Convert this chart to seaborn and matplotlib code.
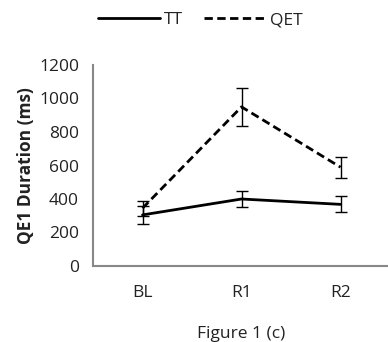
import numpy as np
import pandas as pd
import matplotlib
matplotlib.use("Agg")
import matplotlib.pyplot as plt
import seaborn as sns

phases = ["BL", "R1", "R2"]
tt_mean = [305, 400, 368]
tt_err = [52, 50, 48]
qet_mean = [345, 950, 590]
qet_err = [45, 115, 62]

sns.set_style("white")
plt.rcParams["font.family"] = ["Open Sans", "DejaVu Sans"]
fs = 12.5

df = pd.DataFrame({
    "x": list(range(len(phases))) * 2,
    "y": tt_mean + qet_mean,
    "group": ["TT"] * 3 + ["QET"] * 3,
})

fig = plt.figure(figsize=(3.88, 3.42), dpi=100)
ax = fig.add_axes([93 / 388, 1 - 266 / 342, 297 / 388, 201 / 342])

sns.lineplot(data=df, x="x", y="y", style="group", style_order=["TT", "QET"],
             dashes={"TT": "", "QET": (3, 1.6)}, color="black", lw=2.0,
             ax=ax, legend=False)

xs = np.arange(len(phases))
ax.errorbar(xs, tt_mean, yerr=tt_err, fmt="none", ecolor="black",
            elinewidth=1, capsize=4.5, capthick=1)
ax.errorbar(xs, qet_mean, yerr=qet_err, fmt="none", ecolor="black",
            elinewidth=1, capsize=4.5, capthick=1)

ax.set_xlim(-0.5, 2.5)
ax.set_ylim(0, 1200)
ax.set_yticks(range(0, 1201, 200))
ax.set_xticks(xs)
ax.set_xticklabels(phases)
ax.set_xticks([0.5, 1.5], minor=True)
ax.tick_params(axis="x", which="major", length=0, pad=14, labelsize=fs, colors="#222")
ax.tick_params(axis="x", which="minor", length=4, color="#888", width=1.2, direction="out")
ax.tick_params(axis="y", length=6, color="#888", width=1.2, direction="out",
               labelsize=fs, labelcolor="#222", pad=4)

for s in ["top", "right"]:
    ax.spines[s].set_visible(False)
for s in ["left", "bottom"]:
    ax.spines[s].set_color("#888")
    ax.spines[s].set_linewidth(1.5)

ax.set_ylabel("QE1 Duration (ms)", fontsize=fs, fontweight="bold", color="#222", labelpad=3)
ax.set_xlabel("Figure 1 (c)", fontsize=fs, color="#222", labelpad=18)

h1, = ax.plot([], [], color="black", lw=2.0)
h2, = ax.plot([], [], color="black", lw=2.0, dashes=(3, 1.6))
fig.legend([h1, h2], ["TT", "QET"], loc="center", bbox_to_anchor=(200 / 388, 1 - 20 / 342),
           ncol=2, frameon=False, fontsize=fs, handlelength=3.6, handletextpad=0.2,
           columnspacing=1.2, labelcolor="#222")

fig.savefig("out.png", dpi=100)
